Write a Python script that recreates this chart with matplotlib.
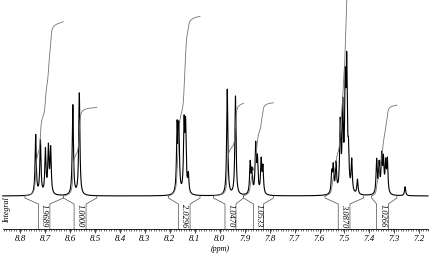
import numpy as np
import matplotlib.pyplot as plt
from matplotlib.ticker import MultipleLocator, FixedLocator

plt.rcParams['font.family'] = ['Liberation Serif', 'DejaVu Serif']
plt.rcParams['font.style'] = 'italic'

# peak lists: chemical shift (ppm) and height above baseline
g1_ppm = [8.738, 8.719, 8.699, 8.687, 8.678]
g1_h = [60, 54, 44, 46, 45]
g2_ppm = [8.589, 8.563]
g2_h = [90, 102]
g3_ppm = [8.171, 8.164, 8.143, 8.137, 8.126]
g3_h = [66, 64, 67, 65, 18]
g4_ppm = [7.970, 7.937]
g4_h = [106, 99]
g5_ppm = [7.878, 7.871, 7.856, 7.849, 7.834, 7.827]
g5_h = [31, 22, 48, 33, 33, 26]
g6_ppm = [7.551, 7.545, 7.534, 7.517, 7.507, 7.497, 7.491, 7.484, 7.471, 7.448]
g6_h = [20, 26, 29, 68, 82, 98, 118, 34, 32, 15]
g7_ppm = [7.371, 7.361, 7.351, 7.344, 7.335, 7.328]
g7_h = [34, 29, 36, 32, 29, 33]
solvent_ppm = [7.257]
solvent_h = [9]

# integration regions (ppm) and integral values
int_start = [8.781, 8.627, 8.206, 8.025, 7.905, 7.578, 7.391]
int_left = [8.727, 8.584, 8.166, 7.979, 7.865, 7.525, 7.371]
int_right = [8.681, 8.536, 8.119, 7.935, 7.825, 7.478, 7.324]
int_end = [8.627, 8.493, 8.079, 7.905, 7.785, 7.424, 7.290]
int_values = [1.9689, 1.0000, 2.0296, 1.0470, 1.0533, 3.0870, 1.0266]
int_labels = ['1.9689', '1.0000', '2.0296', '1.0470', '1.0533', '3.0870', '1.0266']

all_ppm = g1_ppm + g2_ppm + g3_ppm + g4_ppm + g5_ppm + g6_ppm + g7_ppm + solvent_ppm
all_h = g1_h + g2_h + g3_h + g4_h + g5_h + g6_h + g7_h + solvent_h

ppm = np.linspace(8.87, 7.165, 24000)
gamma = 0.0028
spec = np.zeros_like(ppm)
for p, h in zip(all_ppm, all_h):
    spec += h * gamma**2 / ((ppm - p)**2 + gamma**2)

fig = plt.figure(figsize=(4.4, 2.6), dpi=100)
ax = fig.add_axes([0, 31/260, 1, 229/260])
ax.set_xlim(8.881, 7.117)
ax.set_ylim(-33, 196)

ax.plot(ppm, spec, color='black', lw=0.8)

scale = 88.5
for i in range(len(int_values)):
    m = (ppm <= int_start[i]) & (ppm >= int_end[i])
    cum = np.cumsum(spec[m])
    cum = cum / cum[-1]
    ax.plot(ppm[m], cum * int_values[i] * scale, color='0.45', lw=0.6)

    ax.plot([int_start[i], int_start[i], int_left[i], int_left[i]], [0, -2, -8, -33],
            color='0.3', lw=0.5)
    ax.plot([int_end[i], int_end[i], int_right[i], int_right[i]], [0, -2, -8, -33],
            color='0.3', lw=0.5)
    ax.text((int_left[i] + int_right[i]) / 2, -20, int_labels[i], rotation=-90,
            ha='center', va='center', fontsize=6)

ax.text(8.854, -14, 'Integral', rotation=90, ha='center', va='center', fontsize=5.8)

for s in ['top', 'left', 'right']:
    ax.spines[s].set_visible(False)
ax.spines['bottom'].set_bounds(8.87, 7.165)
ax.spines['bottom'].set_linewidth(0.6)
ax.set_yticks([])
ax.xaxis.set_major_locator(MultipleLocator(0.1))
ax.xaxis.set_minor_locator(FixedLocator(np.arange(716.5, 887, 1) / 100))
ax.tick_params(axis='x', which='major', length=3, width=0.5, pad=1.5, labelsize=6.5)
ax.tick_params(axis='x', which='minor', length=1.6, width=0.4)
ax.set_xticklabels([f'{t:.1f}' for t in ax.get_xticks()])
ax.set_xlabel('(ppm)', fontsize=5.8, labelpad=1)
ax.patch.set_alpha(0)

fig.savefig('out.png', dpi=100)
